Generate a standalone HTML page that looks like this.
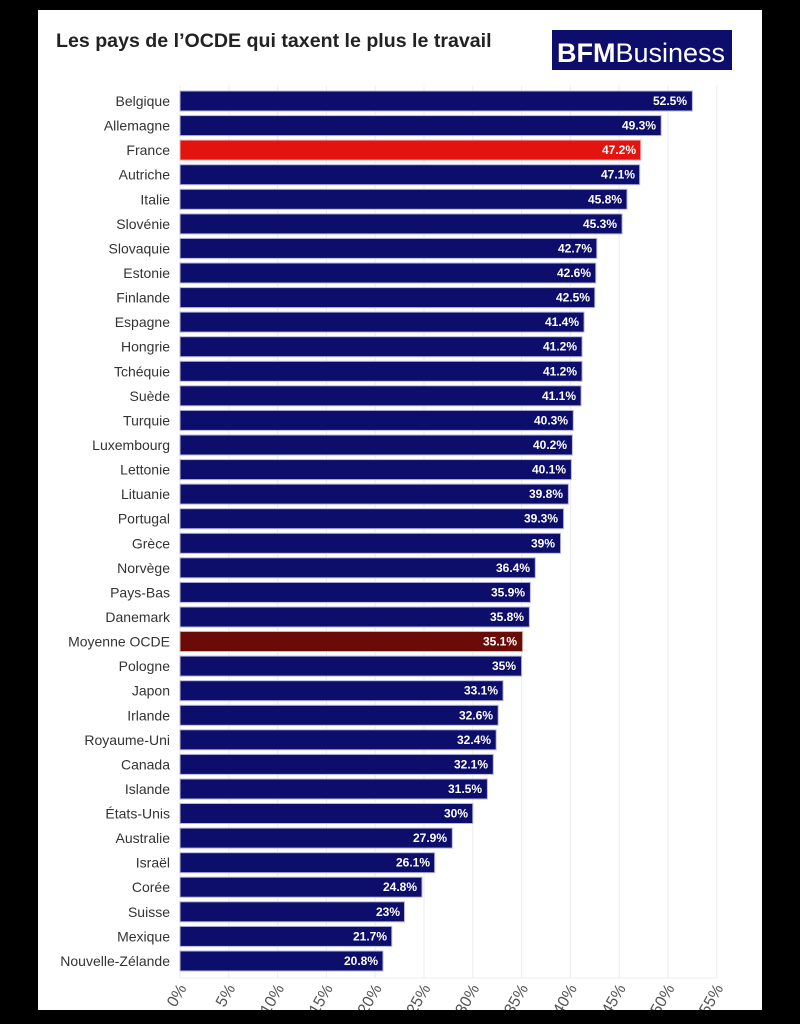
<!DOCTYPE html>
<html><head><meta charset="utf-8"><style>
html,body{margin:0;padding:0;background:#000;width:800px;height:1024px;overflow:hidden}
svg{display:block}
.l{font:14px "Liberation Sans",sans-serif;fill:#333;text-anchor:end}
.v{font:bold 12px "Liberation Sans",sans-serif;fill:#fff;text-anchor:end}
.t{font:16px "Liberation Sans",sans-serif;fill:#555;text-anchor:end}
</style></head><body>
<svg width="800" height="1024" xmlns="http://www.w3.org/2000/svg">
<defs><clipPath id="c"><rect x="38" y="10" width="724" height="1000"/></clipPath></defs>
<rect x="0" y="0" width="800" height="1024" fill="#000"/>
<rect x="38" y="10" width="724" height="1000" fill="#fff"/>
<text x="56" y="47" style="font:bold 19.6px 'Liberation Sans',sans-serif;fill:#222">Les pays de l’OCDE qui taxent le plus le travail</text>
<rect x="552" y="30" width="180" height="40" fill="#0d0d6b"/>
<text x="557" y="62" style="font:bold 27px 'Liberation Sans',sans-serif;fill:#fff">BFM<tspan style="font-weight:normal">Business</tspan></text>
<g stroke="#ececec" stroke-width="1">
<line x1="180" y1="85" x2="180" y2="978"/><line x1="228.8" y1="85" x2="228.8" y2="978"/><line x1="277.6" y1="85" x2="277.6" y2="978"/><line x1="326.4" y1="85" x2="326.4" y2="978"/><line x1="375.2" y1="85" x2="375.2" y2="978"/><line x1="424" y1="85" x2="424" y2="978"/><line x1="472.8" y1="85" x2="472.8" y2="978"/><line x1="521.6" y1="85" x2="521.6" y2="978"/><line x1="570.4" y1="85" x2="570.4" y2="978"/><line x1="619.2" y1="85" x2="619.2" y2="978"/><line x1="668" y1="85" x2="668" y2="978"/><line x1="716.8" y1="85" x2="716.8" y2="978"/>
<line x1="180" y1="978" x2="717" y2="978"/>
</g>
<g id="rows">
<g transform="translate(0,101)"><text class="l" x="170" y="5">Belgique</text><rect x="180" y="-10" width="512.4" height="20" fill="#0d0d6b" stroke="#b8b8e0" stroke-width="1"/><text class="v" x="687" y="4">52.5%</text></g>
<g transform="translate(0,125.6)"><text class="l" x="170" y="5">Allemagne</text><rect x="180" y="-10" width="481.2" height="20" fill="#0d0d6b" stroke="#b8b8e0"/><text class="v" x="656" y="4">49.3%</text></g>
<g transform="translate(0,150.1)"><text class="l" x="170" y="5">France</text><rect x="180" y="-10" width="460.7" height="20" fill="#e3130f" stroke="#f0b0b0"/><text class="v" x="636" y="4">47.2%</text></g>
<g transform="translate(0,174.7)"><text class="l" x="170" y="5">Autriche</text><rect x="180" y="-10" width="459.7" height="20" fill="#0d0d6b" stroke="#b8b8e0"/><text class="v" x="635" y="4">47.1%</text></g>
<g transform="translate(0,199.3)"><text class="l" x="170" y="5">Italie</text><rect x="180" y="-10" width="447" height="20" fill="#0d0d6b" stroke="#b8b8e0"/><text class="v" x="622" y="4">45.8%</text></g>
<g transform="translate(0,223.9)"><text class="l" x="170" y="5">Slovénie</text><rect x="180" y="-10" width="442.1" height="20" fill="#0d0d6b" stroke="#b8b8e0"/><text class="v" x="617" y="4">45.3%</text></g>
<g transform="translate(0,248.4)"><text class="l" x="170" y="5">Slovaquie</text><rect x="180" y="-10" width="416.8" height="20" fill="#0d0d6b" stroke="#b8b8e0"/><text class="v" x="592" y="4">42.7%</text></g>
<g transform="translate(0,273)"><text class="l" x="170" y="5">Estonie</text><rect x="180" y="-10" width="415.8" height="20" fill="#0d0d6b" stroke="#b8b8e0"/><text class="v" x="591" y="4">42.6%</text></g>
<g transform="translate(0,297.6)"><text class="l" x="170" y="5">Finlande</text><rect x="180" y="-10" width="414.8" height="20" fill="#0d0d6b" stroke="#b8b8e0"/><text class="v" x="590" y="4">42.5%</text></g>
<g transform="translate(0,322.1)"><text class="l" x="170" y="5">Espagne</text><rect x="180" y="-10" width="404.1" height="20" fill="#0d0d6b" stroke="#b8b8e0"/><text class="v" x="579" y="4">41.4%</text></g>
<g transform="translate(0,346.7)"><text class="l" x="170" y="5">Hongrie</text><rect x="180" y="-10" width="402.1" height="20" fill="#0d0d6b" stroke="#b8b8e0"/><text class="v" x="577" y="4">41.2%</text></g>
<g transform="translate(0,371.3)"><text class="l" x="170" y="5">Tchéquie</text><rect x="180" y="-10" width="402.1" height="20" fill="#0d0d6b" stroke="#b8b8e0"/><text class="v" x="577" y="4">41.2%</text></g>
<g transform="translate(0,395.8)"><text class="l" x="170" y="5">Suède</text><rect x="180" y="-10" width="401.1" height="20" fill="#0d0d6b" stroke="#b8b8e0"/><text class="v" x="576" y="4">41.1%</text></g>
<g transform="translate(0,420.4)"><text class="l" x="170" y="5">Turquie</text><rect x="180" y="-10" width="393.3" height="20" fill="#0d0d6b" stroke="#b8b8e0"/><text class="v" x="568" y="4">40.3%</text></g>
<g transform="translate(0,445)"><text class="l" x="170" y="5">Luxembourg</text><rect x="180" y="-10" width="392.4" height="20" fill="#0d0d6b" stroke="#b8b8e0"/><text class="v" x="567" y="4">40.2%</text></g>
<g transform="translate(0,469.6)"><text class="l" x="170" y="5">Lettonie</text><rect x="180" y="-10" width="391.4" height="20" fill="#0d0d6b" stroke="#b8b8e0"/><text class="v" x="566" y="4">40.1%</text></g>
<g transform="translate(0,494.1)"><text class="l" x="170" y="5">Lituanie</text><rect x="180" y="-10" width="388.4" height="20" fill="#0d0d6b" stroke="#b8b8e0"/><text class="v" x="563" y="4">39.8%</text></g>
<g transform="translate(0,518.7)"><text class="l" x="170" y="5">Portugal</text><rect x="180" y="-10" width="383.6" height="20" fill="#0d0d6b" stroke="#b8b8e0"/><text class="v" x="558" y="4">39.3%</text></g>
<g transform="translate(0,543.3)"><text class="l" x="170" y="5">Grèce</text><rect x="180" y="-10" width="380.6" height="20" fill="#0d0d6b" stroke="#b8b8e0"/><text class="v" x="555" y="4">39%</text></g>
<g transform="translate(0,567.8)"><text class="l" x="170" y="5">Norvège</text><rect x="180" y="-10" width="355.3" height="20" fill="#0d0d6b" stroke="#b8b8e0"/><text class="v" x="530" y="4">36.4%</text></g>
<g transform="translate(0,592.4)"><text class="l" x="170" y="5">Pays-Bas</text><rect x="180" y="-10" width="350.4" height="20" fill="#0d0d6b" stroke="#b8b8e0"/><text class="v" x="525" y="4">35.9%</text></g>
<g transform="translate(0,617)"><text class="l" x="170" y="5">Danemark</text><rect x="180" y="-10" width="349.4" height="20" fill="#0d0d6b" stroke="#b8b8e0"/><text class="v" x="524" y="4">35.8%</text></g>
<g transform="translate(0,641.5)"><text class="l" x="170" y="5">Moyenne OCDE</text><rect x="180" y="-10" width="342.6" height="20" fill="#6b0b08" stroke="#d8b0b0"/><text class="v" x="517" y="4">35.1%</text></g>
<g transform="translate(0,666.1)"><text class="l" x="170" y="5">Pologne</text><rect x="180" y="-10" width="341.6" height="20" fill="#0d0d6b" stroke="#b8b8e0"/><text class="v" x="516" y="4">35%</text></g>
<g transform="translate(0,690.7)"><text class="l" x="170" y="5">Japon</text><rect x="180" y="-10" width="323.1" height="20" fill="#0d0d6b" stroke="#b8b8e0"/><text class="v" x="498" y="4">33.1%</text></g>
<g transform="translate(0,715.3)"><text class="l" x="170" y="5">Irlande</text><rect x="180" y="-10" width="318.2" height="20" fill="#0d0d6b" stroke="#b8b8e0"/><text class="v" x="493" y="4">32.6%</text></g>
<g transform="translate(0,739.8)"><text class="l" x="170" y="5">Royaume-Uni</text><rect x="180" y="-10" width="316.2" height="20" fill="#0d0d6b" stroke="#b8b8e0"/><text class="v" x="491" y="4">32.4%</text></g>
<g transform="translate(0,764.4)"><text class="l" x="170" y="5">Canada</text><rect x="180" y="-10" width="313.3" height="20" fill="#0d0d6b" stroke="#b8b8e0"/><text class="v" x="488" y="4">32.1%</text></g>
<g transform="translate(0,789)"><text class="l" x="170" y="5">Islande</text><rect x="180" y="-10" width="307.4" height="20" fill="#0d0d6b" stroke="#b8b8e0"/><text class="v" x="482" y="4">31.5%</text></g>
<g transform="translate(0,813.5)"><text class="l" x="170" y="5">États-Unis</text><rect x="180" y="-10" width="292.8" height="20" fill="#0d0d6b" stroke="#b8b8e0"/><text class="v" x="468" y="4">30%</text></g>
<g transform="translate(0,838.1)"><text class="l" x="170" y="5">Australie</text><rect x="180" y="-10" width="272.3" height="20" fill="#0d0d6b" stroke="#b8b8e0"/><text class="v" x="447" y="4">27.9%</text></g>
<g transform="translate(0,862.7)"><text class="l" x="170" y="5">Israël</text><rect x="180" y="-10" width="254.7" height="20" fill="#0d0d6b" stroke="#b8b8e0"/><text class="v" x="430" y="4">26.1%</text></g>
<g transform="translate(0,887.2)"><text class="l" x="170" y="5">Corée</text><rect x="180" y="-10" width="242" height="20" fill="#0d0d6b" stroke="#b8b8e0"/><text class="v" x="417" y="4">24.8%</text></g>
<g transform="translate(0,911.8)"><text class="l" x="170" y="5">Suisse</text><rect x="180" y="-10" width="224.5" height="20" fill="#0d0d6b" stroke="#b8b8e0"/><text class="v" x="400" y="4">23%</text></g>
<g transform="translate(0,936.4)"><text class="l" x="170" y="5">Mexique</text><rect x="180" y="-10" width="211.8" height="20" fill="#0d0d6b" stroke="#b8b8e0"/><text class="v" x="387" y="4">21.7%</text></g>
<g transform="translate(0,961)"><text class="l" x="170" y="5">Nouvelle-Zélande</text><rect x="180" y="-10" width="203" height="20" fill="#0d0d6b" stroke="#b8b8e0"/><text class="v" x="378" y="4">20.8%</text></g>
</g>
<g clip-path="url(#c)">
<text class="t" transform="translate(187,988) rotate(-60)">0%</text>
<text class="t" transform="translate(235.8,988) rotate(-60)">5%</text>
<text class="t" transform="translate(284.6,988) rotate(-60)">10%</text>
<text class="t" transform="translate(333.4,988) rotate(-60)">15%</text>
<text class="t" transform="translate(382.2,988) rotate(-60)">20%</text>
<text class="t" transform="translate(431,988) rotate(-60)">25%</text>
<text class="t" transform="translate(479.8,988) rotate(-60)">30%</text>
<text class="t" transform="translate(528.6,988) rotate(-60)">35%</text>
<text class="t" transform="translate(577.4,988) rotate(-60)">40%</text>
<text class="t" transform="translate(626.2,988) rotate(-60)">45%</text>
<text class="t" transform="translate(675,988) rotate(-60)">50%</text>
<text class="t" transform="translate(723.8,988) rotate(-60)">55%</text>
</g>
</svg>
</body></html>
